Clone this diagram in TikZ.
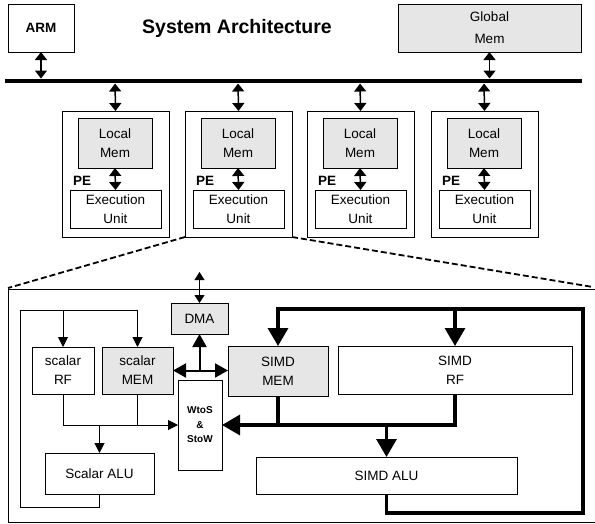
\documentclass[tikz,border=0pt]{standalone}
\usepackage{fontspec}
\setmainfont{Liberation Sans}
\usetikzlibrary{arrows.meta,calc}
\definecolor{memgray}{RGB}{230,230,230}
\newcommand\pefont{\fontsize{13.5}{19}\selectfont}
\begin{document}
\begin{tikzpicture}[x=1pt,y=-1pt,
  box/.style={draw, line width=0.9pt, inner sep=0pt, outer sep=0pt, align=center, font=\pefont},
  membox/.style={box, fill=memgray},
  pelbl/.style={inner sep=0pt, font=\pefont\bfseries},
  busarr/.style={line width=1.5pt, {Triangle[width=12pt,length=8pt]}-{Triangle[width=12pt,length=8pt]}},
  thinarr/.style={line width=1pt, -{Triangle[width=10pt,length=10pt]}},
  dmaarr/.style={line width=2pt, {Triangle[width=14pt,length=13pt]}-{Triangle[width=14pt,length=13pt]}},
  dmaup/.style={line width=2pt, -{Triangle[width=14pt,length=13pt]}},
  smallarr/.style={line width=1pt, {Triangle[width=10pt,length=8pt]}-{Triangle[width=10pt,length=8pt]}},
  bigline/.style={line width=3.3pt},
  bigarr/.style={bigline, -{Triangle[width=20pt,length=18pt]}},
  zoomline/.style={line width=1.8pt, dash pattern=on 6pt off 3pt}]
\useasboundingbox (0,0) rectangle (595,523);

% system level
\node[box, font=\pefont\bfseries, minimum width=66pt, minimum height=48pt] (arm) at (41,28) {ARM};
\node[membox, minimum width=183pt, minimum height=48pt] (gmem) at (489.5,28) {Global\\[3pt]Mem};
\node[inner sep=0pt, font=\fontsize{19.5}{22}\selectfont\bfseries] (title) at (237,28) {System Architecture};

\coordinate (busL) at (5,81);
\coordinate (busR) at (582,81);
\draw[line width=4.3pt] (busL) -- (busR);
\draw[busarr, shorten >=2.5pt] (arm.south) -- (busL -| arm.south);
\draw[busarr, shorten >=2.5pt] (gmem.south) -- (busL -| gmem.south);

% processing elements
\foreach \i/\l in {1/62,2/185,3/307,4/431}{
  \node[box, minimum width=107pt, minimum height=126pt] (pe\i) at (\l+53.5,174) {};
  \node[membox, minimum width=74pt, minimum height=50pt] (lm\i) at (\l+53,143) {Local\\Mem};
  \node[box, minimum width=91pt, minimum height=38pt] (ex\i) at (\l+53.5,209) {Execution\\Unit};
  \node[pelbl, anchor=west] (pl\i) at (\l+11,181) {PE};
  \draw[busarr, shorten <=2.5pt] (busL -| lm\i) -- (pe\i.north);
  \draw[busarr] (lm\i.south) -- (ex\i.north);
}

% detail frame of one PE
\coordinate (fTL) at (8,289);
\coordinate (fTR) at (596,289);
\coordinate (fBL) at (8,522);
\coordinate (fBR) at (596,522);
\draw[line width=0.9pt] (fTR) -- (fTL) -- (fBL) -- (fBR);
\draw[zoomline] (pe2.south west) -- (8,288);
\draw[zoomline] (pe2.south east) -- (593,287);

% inner blocks
\node[membox, minimum width=57pt, minimum height=31pt] (dma) at (199.5,318.5) {DMA};
\node[box, minimum width=62pt, minimum height=47pt] (srf) at (63,370.5) {scalar\\RF};
\node[membox, minimum width=71pt, minimum height=47pt] (smem) at (137.5,370.5) {scalar\\MEM};
\node[membox, minimum width=100pt, minimum height=50pt] (vmem) at (278,371) {SIMD\\MEM};
\node[box, minimum width=234pt, minimum height=48pt] (vrf) at (455,370) {SIMD\\RF};
\node[box, minimum width=44pt, minimum height=90pt, font=\fontsize{10}{14.5}\selectfont\bfseries] (wtos) at (200,425) {WtoS\\\&\\StoW};
\node[box, minimum width=109pt, minimum height=41pt] (salu) at (99.5,473.5) {Scalar ALU};
\node[box, minimum width=261pt, minimum height=37pt] (valu) at (386.5,475.5) {SIMD ALU};

% DMA links
\coordinate (dmatop) at (199.5,272);
\draw[smallarr] (dmatop) -- (dma.north);
\draw[dmaarr] (smem.east) -- (smem.east -| vmem.west);
\draw[dmaup] (dma.south |- smem.east) -- (dma.south);

% scalar datapath
\coordinate (sl1) at (20,507);
\coordinate (sl2) at (20,310);
\draw[thinarr] (salu.south) |- (sl1) -- (sl2) -| (smem.north);
\draw[thinarr] (sl2 -| srf.north) -- (srf.north);
\draw[thinarr] (srf.south) |- (wtos.west);
\draw[line width=1pt] (smem.south) -- (smem.south |- wtos.west);
\draw[thinarr] (salu.north |- wtos.west) -- (salu.north);

% SIMD datapath
\coordinate (vl1) at (583,513);
\coordinate (vl2) at (583,309);
\draw[bigarr] (valu.south) |- (vl1) -- (vl2) -| (vmem.north);
\draw[bigarr] (vl2 -| vrf.north) -- (vrf.north);
\draw[bigarr] (vrf.south) |- (wtos.east);
\draw[bigline] (vmem.south) -- (vmem.south |- wtos.east);
\draw[bigarr] (valu.north |- wtos.east) -- (valu.north);
\end{tikzpicture}
\end{document}
